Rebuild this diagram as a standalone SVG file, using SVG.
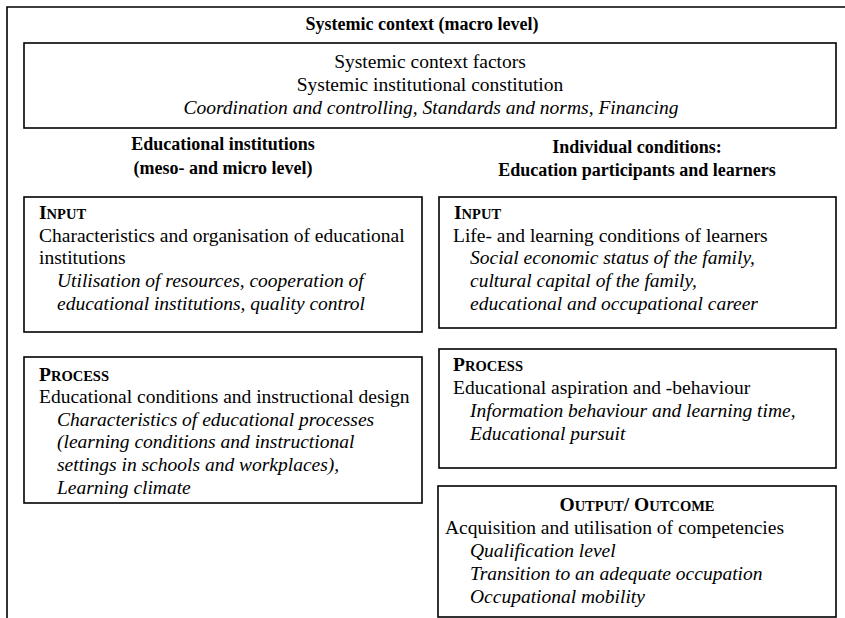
<svg xmlns="http://www.w3.org/2000/svg" width="845" height="618" viewBox="0 0 845 618">
  <style>
    text { font-family: 'Liberation Serif', 'Times New Roman', serif; font-size: 19.5px; fill: #000; }
    .b { font-weight: bold; }
    .h { font-weight: bold; font-size: 18px; text-anchor: middle; }
    .i { font-style: italic; }
    .c { text-anchor: middle; }
    .sc { font-size: 14.5px; }
    .box { fill: #fff; stroke: #000; stroke-width: 1.6; }
    .frame { fill: none; stroke: #000; stroke-width: 1.6; }
  </style>
  <rect width="845" height="618" fill="#fff"/>

  <!-- outer frame: macro level -->
  <g id="frame">
    <path class="frame" d="M845,7 H7 V618"/>
    <text class="h" x="422" y="30">Systemic context (macro level)</text>
  </g>

  <g id="systemic-context">
    <rect class="box" x="24" y="43" width="812" height="85"/>
    <text class="c" x="430" y="68">Systemic context factors</text>
    <text class="c" x="430" y="91">Systemic institutional constitution</text>
    <text class="i c" x="431" y="114">Coordination and controlling, Standards and norms, Financing</text>
  </g>

  <g id="heading-institutions">
    <text class="h" x="223" y="150">Educational institutions</text>
    <text class="h" x="223" y="174">(meso- and micro level)</text>
  </g>

  <g id="heading-individual">
    <text class="h" x="637" y="153">Individual conditions:</text>
    <text class="h" x="637" y="176">Education participants and learners</text>
  </g>

  <g id="inst-input">
    <rect class="box" x="24" y="197" width="398" height="135"/>
    <text class="b" x="39" y="219">I<tspan class="sc">NPUT</tspan></text>
    <text x="39" y="242">Characteristics and organisation of educational</text>
    <text x="39" y="264">institutions</text>
    <text class="i" x="57" y="287">Utilisation of resources, cooperation of</text>
    <text class="i" x="57" y="310">educational institutions, quality control</text>
  </g>

  <g id="inst-process">
    <rect class="box" x="24" y="357" width="398" height="146"/>
    <text class="b" x="39" y="381">P<tspan class="sc">ROCESS</tspan></text>
    <text x="39" y="403">Educational conditions and instructional design</text>
    <text class="i" x="57" y="426">Characteristics of educational processes</text>
    <text class="i" x="57" y="448">(learning conditions and instructional</text>
    <text class="i" x="57" y="471">settings in schools and workplaces),</text>
    <text class="i" x="57" y="494">Learning climate</text>
  </g>

  <g id="ind-input">
    <rect class="box" x="439" y="197" width="397" height="131"/>
    <text class="b" x="454" y="219">I<tspan class="sc">NPUT</tspan></text>
    <text x="453" y="242">Life- and learning conditions of learners</text>
    <text class="i" x="470" y="264">Social economic status of the family,</text>
    <text class="i" x="470" y="287">cultural capital of the family,</text>
    <text class="i" x="470" y="310">educational and occupational career</text>
  </g>

  <g id="ind-process">
    <rect class="box" x="439" y="349" width="397" height="119"/>
    <text class="b" x="453" y="371">P<tspan class="sc">ROCESS</tspan></text>
    <text x="453" y="394">Educational aspiration and -behaviour</text>
    <text class="i" x="470" y="417">Information behaviour and learning time,</text>
    <text class="i" x="470" y="440">Educational pursuit</text>
  </g>

  <g id="ind-output">
    <rect class="box" x="438" y="486" width="398" height="131"/>
    <text class="b c" x="637" y="511">O<tspan class="sc">UTPUT</tspan>/ O<tspan class="sc">UTCOME</tspan></text>
    <text x="445" y="534">Acquisition and utilisation of competencies</text>
    <text class="i" x="470" y="557">Qualification level</text>
    <text class="i" x="470" y="580">Transition to an adequate occupation</text>
    <text class="i" x="470" y="603">Occupational mobility</text>
  </g>

  <g id="connectors"></g>
</svg>
